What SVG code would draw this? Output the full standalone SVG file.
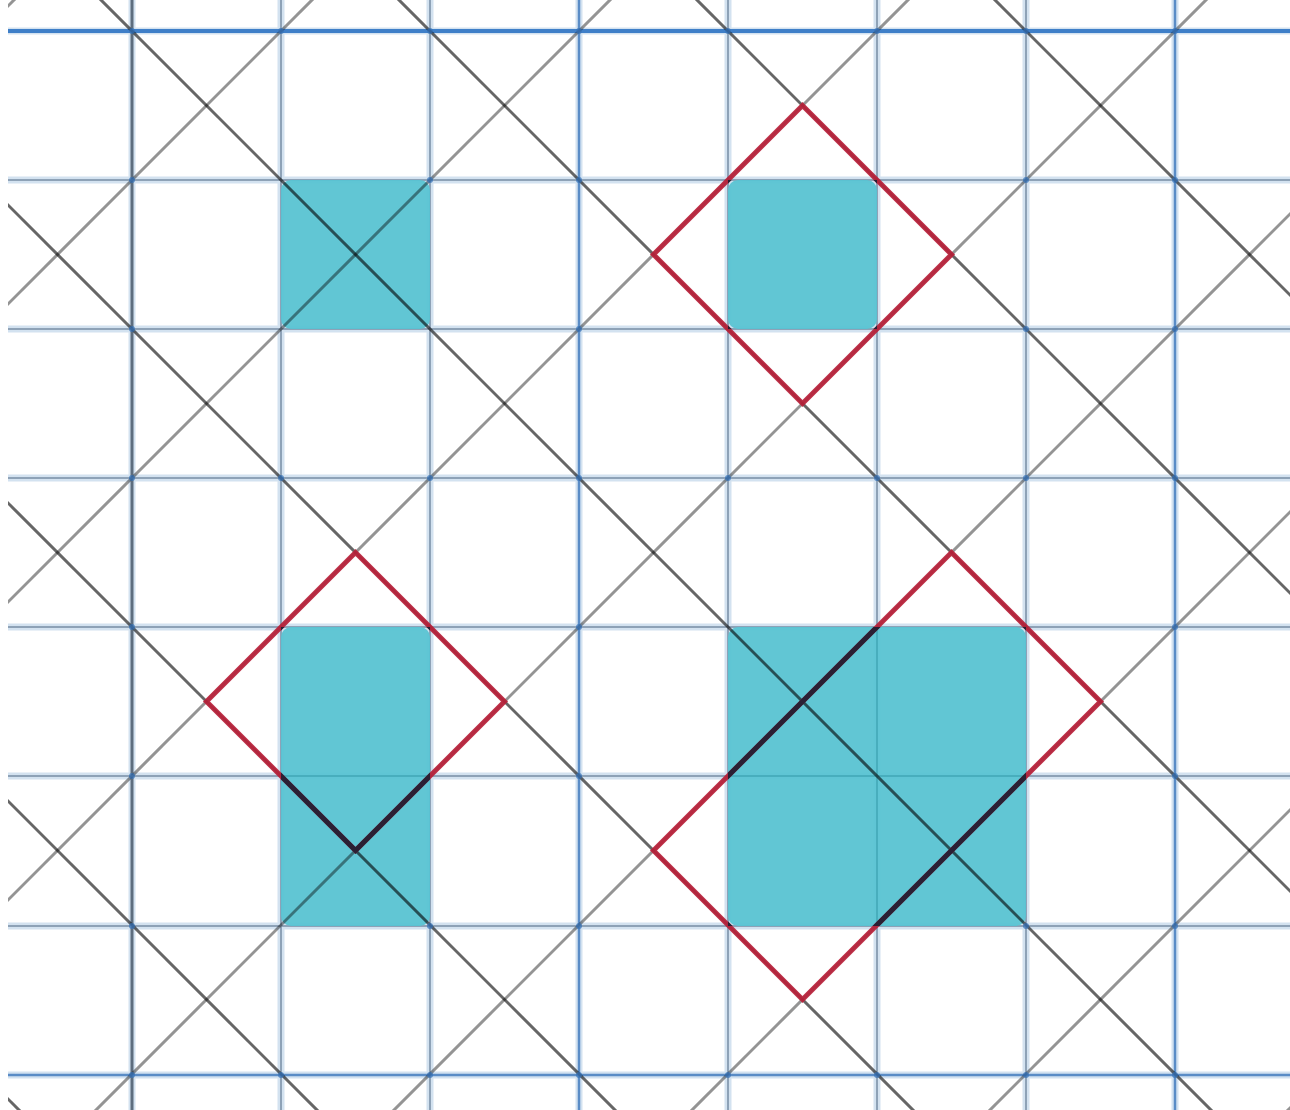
<svg xmlns="http://www.w3.org/2000/svg" width="1290" height="1110" viewBox="0 0 1290 1110">
  <style>
    .band { stroke: #d3e2f0; stroke-width: 7; fill: none; }
    .core { stroke: #8ea2b7; stroke-width: 2; fill: none; }
    .coreblue { stroke: #5a8cc6; stroke-width: 2.5; fill: none; }
    .cell { fill: #58c3d2; fill-opacity: 0.95; }
    .seam { stroke: #48aebd; stroke-width: 2; fill: none; }
    .bs { stroke: #000; stroke-opacity: 0.6; stroke-width: 3; fill: none; }
    .fs { stroke: #000; stroke-opacity: 0.42; stroke-width: 3; fill: none; }
    .dot { fill: #3a74b8; fill-opacity: 0.75; }
    .red { stroke: #b9213a; stroke-opacity: 0.92; stroke-width: 5; fill: none; }
    .reddark { stroke: #2a2034; stroke-width: 5; fill: none; }
  </style>
  <defs>
    <clipPath id="frame"><rect x="8" y="0" width="1282" height="1110"/></clipPath>
    <clipPath id="cells">
      <rect x="281" y="180" width="149" height="149"/>
      <rect x="728" y="180" width="149" height="149"/>
      <rect x="281" y="627" width="149" height="299"/>
      <rect x="728" y="627" width="298" height="299"/>
    </clipPath>
  </defs>
  <rect width="1290" height="1110" fill="#fff"/>
  <g clip-path="url(#frame)">
    <g id="grid">
      <g id="grid-bands">
        <path class="band" d="M132 0V1110M281 0V1110M430 0V1110M579 0V1110M728 0V1110M877 0V1110M1026 0V1110M1175 0V1110"/>
        <path class="band" d="M0 31H1290M0 180H1290M0 329H1290M0 478H1290M0 627H1290M0 776H1290M0 926H1290M0 1075H1290"/>
      </g>
      <g id="grid-cores">
        <path class="core" d="M281 0V1110M430 0V1110M728 0V1110M877 0V1110M1026 0V1110"/>
        <path class="coreblue" d="M579 0V1110M1175 0V1110"/>
        <path d="M132 0V1110" stroke="#5d6d7e" stroke-width="3" fill="none"/>
        <path class="core" d="M0 180H1290M0 329H1290M0 478H1290M0 627H1290M0 776H1290M0 926H1290"/>
        <path class="coreblue" d="M0 1075H1290"/>
        <path d="M0 31H1290" stroke="#3f7fc8" stroke-width="4" fill="none"/>
      </g>
    </g>
    <g id="shaded-cells">
      <rect id="cell-a" class="cell" x="281" y="180" width="149" height="149" rx="10"/>
      <rect id="cell-b" class="cell" x="728" y="180" width="149" height="149" rx="10"/>
      <g id="cells-c">
        <rect class="cell" x="281" y="627" width="149" height="299" rx="10"/>
        <path class="seam" d="M283 776H428"/>
      </g>
      <g id="cells-d">
        <rect class="cell" x="728" y="627" width="298" height="299" rx="10"/>
        <path class="seam" d="M730 776H1024M877 629V924"/>
      </g>
    </g>
    <g id="diagonals">
      <g id="diag-back">
        <line class="bs" x1="-1101" y1="-10" x2="29" y2="1120"/>
        <line class="bs" x1="-803" y1="-10" x2="327" y2="1120"/>
        <line class="bs" x1="-505" y1="-10" x2="625" y2="1120"/>
        <line class="bs" x1="-207" y1="-10" x2="923" y2="1120"/>
        <line class="bs" x1="91" y1="-10" x2="1221" y2="1120"/>
        <line class="bs" x1="389" y1="-10" x2="1519" y2="1120"/>
        <line class="bs" x1="687" y1="-10" x2="1817" y2="1120"/>
        <line class="bs" x1="985" y1="-10" x2="2115" y2="1120"/>
        <line class="bs" x1="1283" y1="-10" x2="2413" y2="1120"/>
      </g>
      <g id="diag-fwd">
        <line class="fs" x1="24" y1="-10" x2="-1106" y2="1120"/>
        <line class="fs" x1="322" y1="-10" x2="-808" y2="1120"/>
        <line class="fs" x1="620" y1="-10" x2="-510" y2="1120"/>
        <line class="fs" x1="918" y1="-10" x2="-212" y2="1120"/>
        <line class="fs" x1="1216" y1="-10" x2="86" y2="1120"/>
        <line class="fs" x1="1514" y1="-10" x2="384" y2="1120"/>
        <line class="fs" x1="1812" y1="-10" x2="682" y2="1120"/>
        <line class="fs" x1="2110" y1="-10" x2="980" y2="1120"/>
        <line class="fs" x1="2408" y1="-10" x2="1278" y2="1120"/>
      </g>
    </g>
    <g id="intersections">
      <circle class="dot" cx="132" cy="31" r="3"/><circle class="dot" cx="281" cy="31" r="3"/><circle class="dot" cx="430" cy="31" r="3"/><circle class="dot" cx="579" cy="31" r="3"/><circle class="dot" cx="728" cy="31" r="3"/><circle class="dot" cx="877" cy="31" r="3"/><circle class="dot" cx="1026" cy="31" r="3"/><circle class="dot" cx="1175" cy="31" r="3"/>
      <circle class="dot" cx="132" cy="180" r="3"/><circle class="dot" cx="430" cy="180" r="3"/><circle class="dot" cx="579" cy="180" r="3"/><circle class="dot" cx="1026" cy="180" r="3"/><circle class="dot" cx="1175" cy="180" r="3"/>
      <circle class="dot" cx="132" cy="329" r="3"/><circle class="dot" cx="579" cy="329" r="3"/><circle class="dot" cx="1026" cy="329" r="3"/><circle class="dot" cx="1175" cy="329" r="3"/>
      <circle class="dot" cx="132" cy="478" r="3"/><circle class="dot" cx="281" cy="478" r="3"/><circle class="dot" cx="430" cy="478" r="3"/><circle class="dot" cx="579" cy="478" r="3"/><circle class="dot" cx="728" cy="478" r="3"/><circle class="dot" cx="877" cy="478" r="3"/><circle class="dot" cx="1026" cy="478" r="3"/><circle class="dot" cx="1175" cy="478" r="3"/>
      <circle class="dot" cx="132" cy="627" r="3"/><circle class="dot" cx="579" cy="627" r="3"/><circle class="dot" cx="1175" cy="627" r="3"/>
      <circle class="dot" cx="132" cy="776" r="3"/><circle class="dot" cx="579" cy="776" r="3"/><circle class="dot" cx="1175" cy="776" r="3"/>
      <circle class="dot" cx="132" cy="926" r="3"/><circle class="dot" cx="430" cy="926" r="3"/><circle class="dot" cx="579" cy="926" r="3"/><circle class="dot" cx="1026" cy="926" r="3"/><circle class="dot" cx="1175" cy="926" r="3"/>
      <circle class="dot" cx="132" cy="1075" r="3"/><circle class="dot" cx="281" cy="1075" r="3"/><circle class="dot" cx="430" cy="1075" r="3"/><circle class="dot" cx="579" cy="1075" r="3"/><circle class="dot" cx="728" cy="1075" r="3"/><circle class="dot" cx="877" cy="1075" r="3"/><circle class="dot" cx="1026" cy="1075" r="3"/><circle class="dot" cx="1175" cy="1075" r="3"/>
    </g>
    <g id="red-outlines">
      <polygon id="diamond-top" class="red" points="802.5,105.5 951.5,254.5 802.5,403.5 653.5,254.5"/>
      <polygon id="diamond-left" class="red" points="355.5,552.5 504.5,701.5 355.5,850.5 206.5,701.5"/>
      <polygon id="rect-right" class="red" points="951.5,552.5 1100.5,701.5 802.5,999.5 653.5,850.5"/>
      <g clip-path="url(#cells)">
        <polygon class="reddark" points="802.5,105.5 951.5,254.5 802.5,403.5 653.5,254.5"/>
        <polygon class="reddark" points="355.5,552.5 504.5,701.5 355.5,850.5 206.5,701.5"/>
        <polygon class="reddark" points="951.5,552.5 1100.5,701.5 802.5,999.5 653.5,850.5"/>
      </g>
    </g>
  </g>
</svg>
